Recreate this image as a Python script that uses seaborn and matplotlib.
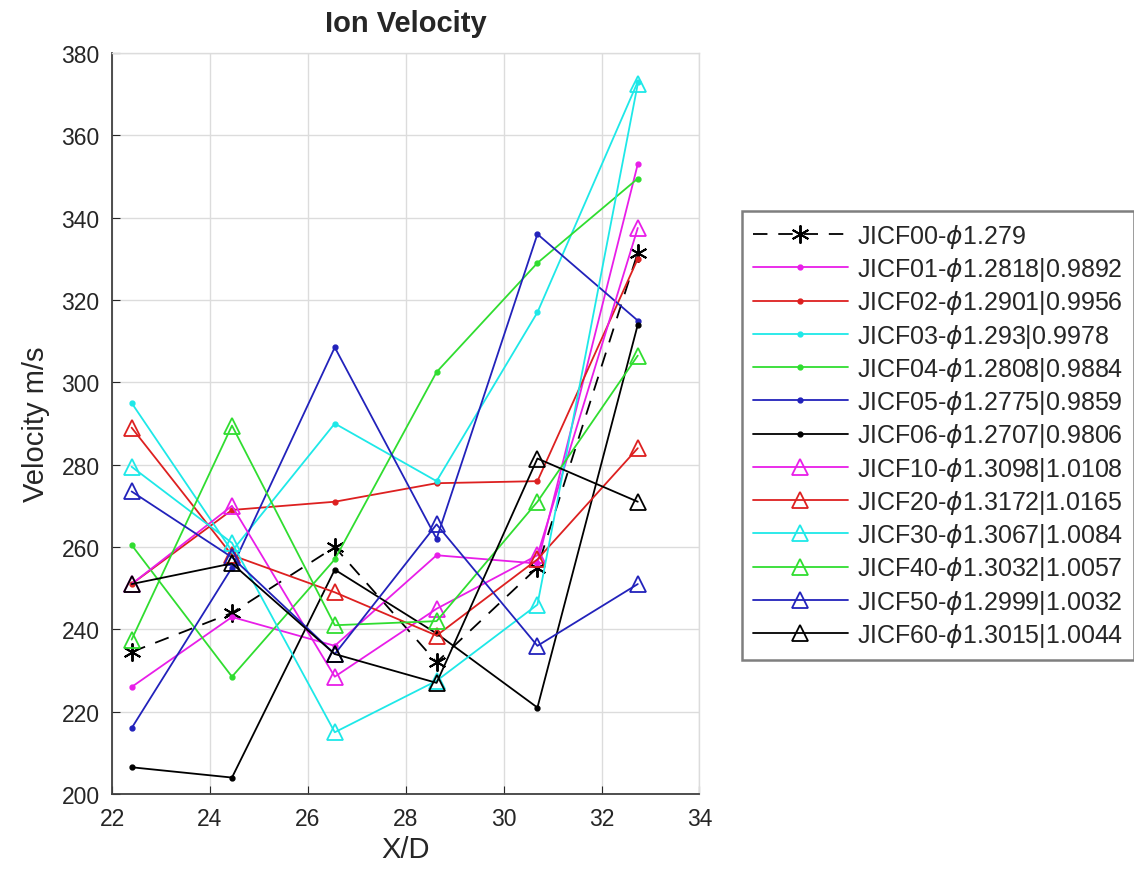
import numpy as np
import pandas as pd
import seaborn as sns
import matplotlib.pyplot as plt

# X/D stations
xd = [22.4, 24.45, 26.55, 28.63, 30.69, 32.74]

# Velocity (m/s) per case
jicf00 = [234.5, 244, 260, 232, 255, 331.5]
jicf01 = [226, 243, 236, 258, 256, 353]
jicf02 = [251, 269, 271, 275.5, 276, 330]
jicf03 = [295, 259, 290, 276, 317, 373]
jicf04 = [260.5, 228.5, 257, 302.5, 329, 349.5]
jicf05 = [216, 255, 308.5, 262, 336, 315]
jicf06 = [206.5, 204, 254.5, 239, 221, 314]
jicf10 = [251, 270, 228.5, 245, 258, 337.5]
jicf20 = [289, 258, 249, 238.5, 257, 284]
jicf30 = [279.5, 261, 215, 227.5, 246, 372.5]
jicf40 = [237.5, 289.5, 241, 242, 271, 306.5]
jicf50 = [273.5, 257.5, 234, 265.5, 236, 251]
jicf60 = [251, 256, 234, 227, 281.5, 271]

labels = ['JICF00-$\\phi$1.279',
          'JICF01-$\\phi$1.2818|0.9892',
          'JICF02-$\\phi$1.2901|0.9956',
          'JICF03-$\\phi$1.293|0.9978',
          'JICF04-$\\phi$1.2808|0.9884',
          'JICF05-$\\phi$1.2775|0.9859',
          'JICF06-$\\phi$1.2707|0.9806',
          'JICF10-$\\phi$1.3098|1.0108',
          'JICF20-$\\phi$1.3172|1.0165',
          'JICF30-$\\phi$1.3067|1.0084',
          'JICF40-$\\phi$1.3032|1.0057',
          'JICF50-$\\phi$1.2999|1.0032',
          'JICF60-$\\phi$1.3015|1.0044']
series = [jicf00, jicf01, jicf02, jicf03, jicf04, jicf05, jicf06,
          jicf10, jicf20, jicf30, jicf40, jicf50, jicf60]

cols = ['black', '#e81ee8', '#dd2020', '#1ee8e8', '#30dd30', '#2222bb', 'black']
cols = cols + cols[1:]

sns.set_style('whitegrid')
plt.rcParams['font.family'] = ['Liberation Sans', 'DejaVu Sans']
plt.rcParams['mathtext.fontset'] = 'dejavusans'

fig = plt.figure(figsize=(11.34, 8.78), dpi=100)
ax = fig.add_axes([0.0988, 0.0945, 0.518, 0.844])

for i, (vals, lab) in enumerate(zip(series, labels)):
    c = cols[i]
    if i == 0:
        kw = dict(marker=(6, 2, 0), markersize=13, markeredgewidth=1.4,
                  markeredgecolor=c, linestyle=(0, (8, 6)), linewidth=1.3)
    elif i <= 6:
        kw = dict(marker='o', markersize=3.5, markeredgewidth=1,
                  markeredgecolor=c, markerfacecolor=c, linewidth=1.3)
    else:
        kw = dict(marker='^', markersize=12, markerfacecolor='none',
                  markeredgecolor=c, markeredgewidth=1.3, linewidth=1.3)
    sns.lineplot(x=xd, y=vals, color=c, label=lab, sort=False,
                 errorbar=None, ax=ax, **kw)

ax.set_xlim(22, 34)
ax.set_ylim(200, 380)
ax.set_xticks(np.arange(22, 35, 2))
ax.set_yticks(np.arange(200, 381, 20))
ax.grid(True, color='#dcdcdc', linewidth=1.0)
ax.tick_params(direction='in', length=6, labelsize=16.5, colors='#262626',
               labelcolor='#262626', left=True, bottom=True, pad=9)
for s in ['left', 'bottom']:
    ax.spines[s].set_color('#404040')
    ax.spines[s].set_linewidth(1.3)
for s in ['top', 'right']:
    ax.spines[s].set_color('#dcdcdc')
    ax.spines[s].set_linewidth(1.0)

ax.set_title('Ion Velocity', fontsize=21, fontweight='bold', pad=16)
ax.set_xlabel('X/D', fontsize=21, color='#262626', labelpad=4)
ax.set_ylabel('Velocity m/s', fontsize=21, color='#262626', labelpad=8)

leg = ax.legend(loc='upper left', bbox_to_anchor=(0.654, 0.759),
                bbox_transform=fig.transFigure, borderaxespad=0,
                fontsize=18, handlelength=3.8, labelspacing=0.21,
                handletextpad=0.35, borderpad=0.45, frameon=True,
                fancybox=False, framealpha=1)
leg.get_frame().set_edgecolor('#7f7f7f')
leg.get_frame().set_linewidth(1.8)

fig.savefig('out.png', dpi=100)
